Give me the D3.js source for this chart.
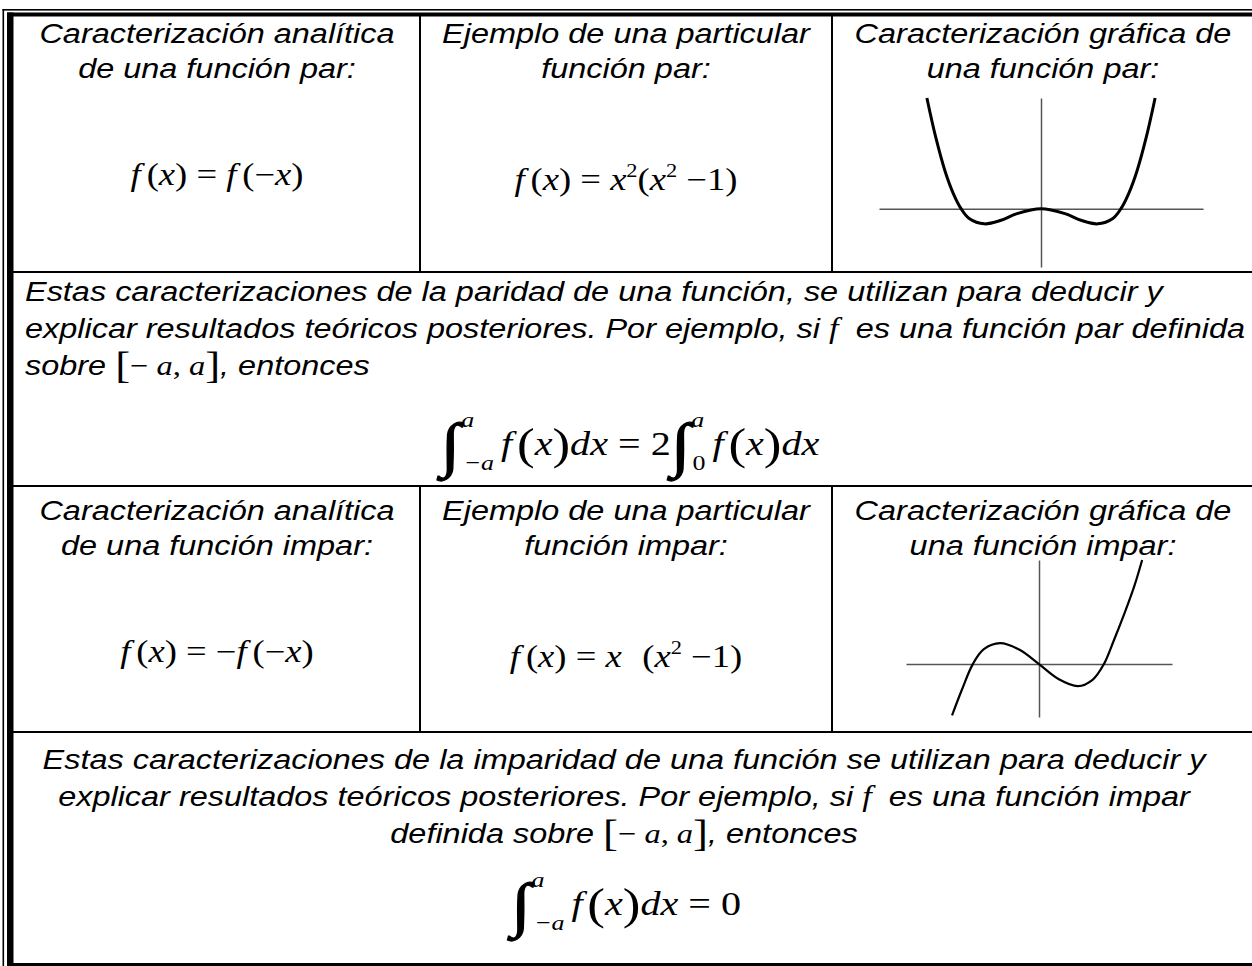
<!DOCTYPE html>
<html>
<head>
<meta charset="utf-8">
<script src="https://cdn.jsdelivr.net/npm/d3@7"></script>
<style>
body { margin: 0; background: #fff; }
svg { display: block; }
text { white-space: pre; }
</style>
</head>
<body>
<script>
// texts of the table
var headParAnal = ["Caracterización analítica", "de una función par:"];
var headParEj = ["Ejemplo de una particular", "función par:"];
var headParGraf = ["Caracterización gráfica de", "una función par:"];
var headImparAnal = ["Caracterización analítica", "de una función impar:"];
var headImparEj = ["Ejemplo de una particular", "función impar:"];
var headImparGraf = ["Caracterización gráfica de", "una función impar:"];
var parLine1 = "Estas caracterizaciones de la paridad de una función, se utilizan para deducir y";
var parLine2 = ["explicar resultados teóricos posteriores. Por ejemplo, si ", " es una función par definida"];
var imparLine1 = "Estas caracterizaciones de la imparidad de una función se utilizan para deducir y";
var imparLine2 = ["explicar resultados teóricos posteriores. Por ejemplo, si ", " es una función impar"];

// curve of the even example
var evenX = [-1.43, -1.32, -1.2, -1.1, -1.0, -0.9, -0.71, -0.5, -0.3, 0, 0.3, 0.5, 0.71, 0.9, 1.0, 1.1, 1.2, 1.32, 1.43];
var evenY = [1.85, 1.2, 0.62, 0.26, 0, -0.16, -0.25, -0.19, -0.08, 0, -0.08, -0.19, -0.25, -0.16, 0, 0.26, 0.62, 1.2, 1.85];
// curve of the odd example
var oddX = [-1.34, -1.19, -1.02, -0.85, -0.6, -0.3, 0, 0.3, 0.6, 0.83, 1.0, 1.15, 1.32, 1.47, 1.59];
var oddY = [-0.93, -0.47, 0, 0.27, 0.38, 0.26, 0, -0.27, -0.4, -0.28, 0, 0.42, 0.93, 1.42, 1.89];

var W = 1252, H = 966;
var SX = 1.18;           // the picture is stretched sideways
var SANS = "'Liberation Sans', Arial, sans-serif";
var SERIF = "'Liberation Serif', 'Times New Roman', serif";
var colC = [217, 626, 1043];

var svg = d3.select("body").append("svg")
	.attr("width", W)
	.attr("height", H);

// frame: thin + thick double border on top and left
svg.append("rect").attr("x", 2.5).attr("y", 9).attr("width", 1.6).attr("height", H - 9).attr("fill", "#000");
svg.append("rect").attr("x", 2.5).attr("y", 9).attr("width", W).attr("height", 1.6).attr("fill", "#000");
svg.append("rect").attr("x", 7).attr("y", 12.5).attr("width", 6.5).attr("height", H - 12.5).attr("fill", "#000");
svg.append("rect").attr("x", 7).attr("y", 12.5).attr("width", W).attr("height", 4).attr("fill", "#000");
svg.append("rect").attr("x", 7).attr("y", 963).attr("width", W).attr("height", 3).attr("fill", "#000");

// row and column rules
[272, 486, 732].forEach(function(y){
	svg.append("line").attr("x1", 13).attr("x2", W).attr("y1", y).attr("y2", y)
		.attr("stroke", "#000").attr("stroke-width", 2);
});
[[16, 272], [486, 732]].forEach(function(r){
	[420, 832].forEach(function(x){
		svg.append("line").attr("x1", x).attr("x2", x).attr("y1", r[0]).attr("y2", r[1])
			.attr("stroke", "#000").attr("stroke-width", 2);
	});
});

// a text line made of pieces: {t, i (italic), f (family), s (size), b (raise), dx, w (stroke)}
function line(x, y, parts, size, family, anchor, italic){
	var t = svg.append("text")
		.attr("transform", "translate(" + x + "," + y + ") scale(" + SX + ",1)")
		.attr("text-anchor", anchor)
		.attr("font-size", size)
		.attr("font-family", family)
		.attr("font-style", italic ? "italic" : "normal")
		.attr("fill", "#000");
	var prev = 0;
	parts.forEach(function(p){
		if (typeof p === "string") p = {t: p};
		var s = t.append("tspan").text(p.t);
		if (p.i === true) s.attr("font-style", "italic");
		if (p.i === false) s.attr("font-style", "normal");
		if (p.f) s.attr("font-family", p.f);
		if (p.s) s.attr("font-size", p.s);
		if (p.w) s.attr("stroke", "#000").attr("stroke-width", p.w);
		var b = p.b || 0;
		if (b !== prev) s.attr("dy", prev - b);
		prev = b;
		if (p.dx) s.attr("dx", p.dx);
	});
	return t;
}

function header(cx, y0, lines){
	lines.forEach(function(l, k){
		line(cx, y0 + k * 35, [l], 27.5, SANS, "middle", true);
	});
}

// row 1
header(colC[0], 43, headParAnal);
header(colC[1], 43, headParEj);
header(colC[2], 43, headParGraf);
line(colC[0], 185, [{t: "f", i: true}, {t: "(", dx: 5}, {t: "x", i: true}, ") = ",
	{t: "f", i: true}, {t: "(−", dx: 5}, {t: "x", i: true}, ")"], 31, SERIF, "middle", false);
line(colC[1], 190, [{t: "f", i: true}, {t: "(", dx: 5}, {t: "x", i: true}, ") = ",
	{t: "x", i: true}, {t: "2", s: 19, b: 13}, {t: "(", b: 0}, {t: "x", i: true}, {t: "2", s: 19, b: 13},
	{t: " −1)", b: 0}], 31, SERIF, "middle", false);

// row 3
header(colC[0], 520, headImparAnal);
header(colC[1], 520, headImparEj);
header(colC[2], 520, headImparGraf);
line(colC[0], 662, [{t: "f", i: true}, {t: "(", dx: 5}, {t: "x", i: true}, ") = −",
	{t: "f", i: true}, {t: "(−", dx: 5}, {t: "x", i: true}, ")"], 31, SERIF, "middle", false);
line(colC[1], 667, [{t: "f", i: true}, {t: "(", dx: 5}, {t: "x", i: true}, ") = ",
	{t: "x", i: true}, {t: "  (", dx: 2}, {t: "x", i: true}, {t: "2", s: 19, b: 13},
	{t: " −1)", b: 0}], 31, SERIF, "middle", false);

// row 2 paragraph
var PS = 27.5;
line(25, 301, [parLine1], PS, SANS, "start", true);
line(25, 338, [parLine2[0], {t: "f", f: SERIF, s: 29}, {t: " ", f: SERIF}, parLine2[1]], PS, SANS, "start", true);
line(25, 375, ["sobre ", {t: "[", f: SERIF, i: false, s: 38, b: -3}, {t: "− ", f: SERIF, i: false, b: 0},
	{t: "a", f: SERIF}, {t: ", ", f: SERIF, i: false}, {t: "a", f: SERIF},
	{t: "]", f: SERIF, i: false, s: 38, b: -3}, {t: ", entonces", b: 0}], PS, SANS, "start", true);

// integral parts
function integral(lo, hi){
	return [{t: "∫", s: 60, b: -10, w: 1.2}, {t: hi, i: true, s: 22, b: 28, dx: 1},
		{t: lo, i: lo !== "0", s: 22, b: -15, dx: lo.length > 1 ? -9 : -10}];
}
function fx(){
	return [{t: "f", i: true, b: 0, dx: 6}, {t: "(", s: 45, b: -4, dx: 4}, {t: "x", i: true, b: 0},
		{t: ")", s: 45, b: -4}, {t: "dx", i: true, b: 0}];
}
line(630, 455, integral("−a", "a").concat(fx(), [" = 2"], integral("0", "a"), fx()), 34, SERIF, "middle", false);

// row 4 paragraph, centered
line(624, 769, [imparLine1], PS, SANS, "middle", true);
line(624, 806, [imparLine2[0], {t: "f", f: SERIF, s: 29}, {t: " ", f: SERIF}, imparLine2[1]], PS, SANS, "middle", true);
line(624, 843, ["definida sobre ", {t: "[", f: SERIF, i: false, s: 38, b: -3}, {t: "− ", f: SERIF, i: false, b: 0},
	{t: "a", f: SERIF}, {t: ", ", f: SERIF, i: false}, {t: "a", f: SERIF},
	{t: "]", f: SERIF, i: false, s: 38, b: -3}, {t: ", entonces", b: 0}], PS, SANS, "middle", true);
line(626, 915, integral("−a", "a").concat(fx(), [" = 0"]), 34, SERIF, "middle", false);

// small graphs
function graph(xs, ys, xDom, xRange, yDom, yRange, width){
	var x = d3.scaleLinear().domain(xDom).range(xRange);
	var y = d3.scaleLinear().domain(yDom).range(yRange);
	var g = svg.append("g");
	g.append("g").attr("transform", "translate(0," + y(0) + ")")
		.call(d3.axisBottom(x).tickValues([]).tickSizeOuter(0));
	g.append("g").attr("transform", "translate(" + x(0) + ",0)")
		.call(d3.axisLeft(y).tickValues([]).tickSizeOuter(0));
	g.selectAll(".domain").attr("stroke", "#555").attr("stroke-width", 1.5);
	var pts = xs.map(function(v, k){ return [v, ys[k]]; });
	g.append("path")
		.datum(pts)
		.attr("fill", "none")
		.attr("stroke", "#000")
		.attr("stroke-width", width)
		.attr("d", d3.line().x(function(d){ return x(d[0]); }).y(function(d){ return y(d[1]); })
			.curve(d3.curveCatmullRom.alpha(0.5)));
}
graph(evenX, evenY, [-2.03, 2.03], [879, 1203], [-0.97, 1.85], [267, 98], 3);
graph(oddX, oddY, [-2.05, 2.05], [906, 1172], [-0.96, 1.89], [717, 560], 2.2);
</script>
</body>
</html>
